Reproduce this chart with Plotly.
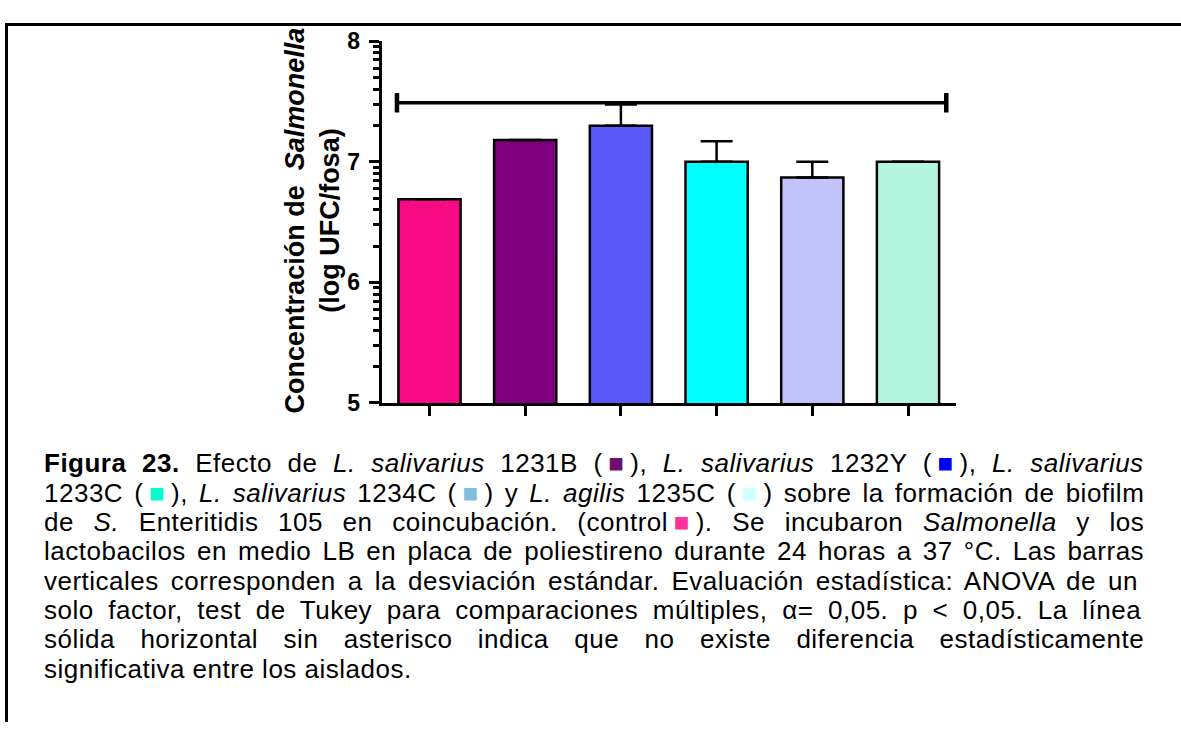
import math
import re
import plotly.graph_objects as go

W, H = 1181, 735

# ---- data -------------------------------------------------------------
categories = ["Control", "L. salivarius 1231B", "L. salivarius 1232Y",
              "L. salivarius 1233C", "L. salivarius 1234C", "L. agilis 1235C"]
means = [6.69, 7.18, 7.30, 7.00, 6.87, 7.00]          # log UFC/fosa
sd_upper = [None, None, 0.175, 0.17, 0.13, None]       # standard deviation
bar_colors = ["#F60B84", "#800080", "#5959F8", "#00FFFF", "#C3C3FC", "#B4F5DF"]
y_major = [5, 6, 7, 8]
no_difference_level = 7.49                             # Tukey: no significant difference

# colours of the small squares used in the caption
swatch_colors = ["#6E0E6E", "#0000FF", "#00FFCC", "#80C0DC", "#CCFFFF", "#FF3399"]

# ---- helpers ------------------------------------------------------------
def px_x(px):
    return px / W


def px_y(px):
    return 1 - px / H


def swatch(color, pad=True):
    sp = '\u2009' if pad else ''
    return f'{sp}<span style="color:{color}">■</span>{sp}'


# Arial / Liberation Sans advance widths (1/1000 em)
REG = {' ': 278, '\u2009': 200, '!': 278, '(': 333, ')': 333, ',': 278,
       '-': 333, '.': 278, '/': 278, ':': 278, '<': 584, '=': 584, '°': 400,
       'α': 578, '■': 604,
       'A': 667, 'B': 667, 'C': 722, 'D': 722, 'E': 667, 'F': 611, 'G': 778,
       'H': 722, 'I': 278, 'J': 500, 'K': 667, 'L': 556, 'M': 833, 'N': 722,
       'O': 778, 'P': 667, 'Q': 778, 'R': 722, 'S': 667, 'T': 611, 'U': 722,
       'V': 667, 'W': 944, 'X': 667, 'Y': 667, 'Z': 611,
       'a': 556, 'b': 556, 'c': 500, 'd': 556, 'e': 556, 'f': 278, 'g': 556,
       'h': 556, 'i': 222, 'j': 222, 'k': 500, 'l': 222, 'm': 833, 'n': 556,
       'o': 556, 'p': 556, 'q': 556, 'r': 333, 's': 500, 't': 278, 'u': 556,
       'v': 500, 'w': 722, 'x': 500, 'y': 500, 'z': 500,
       'á': 556, 'é': 556, 'í': 278, 'ó': 556, 'ú': 556}
for d in '0123456789':
    REG[d] = 556
BOLD = dict(REG)
BOLD.update({'F': 611, 'i': 278, 'g': 611, 'u': 611, 'r': 389, 'a': 556})


def text_width(markup, size, letter_sp):
    """Natural width in px of a line of annotation markup."""
    bold = False
    total = 0.0
    spaces = 0
    chars = 0
    for part in re.split(r'(<[^>]+>)', markup):
        if part.startswith('<'):
            if part == '<b>':
                bold = True
            elif part == '</b>':
                bold = False
            continue
        part = part.replace('&lt;', '<')
        table = BOLD if bold else REG
        for ch in part:
            total += table.get(ch, 556)
            chars += 1
            if ch == ' ':
                spaces += 1
    return total * size / 1000.0 + chars * letter_sp, spaces


# ---- caption ------------------------------------------------------------
caption_lines = [
    f'<b>Figura 23.</b> Efecto de <i>L. salivarius</i> 1231B ({swatch(swatch_colors[0])}), '
    f'<i>L. salivarius</i> 1232Y ({swatch(swatch_colors[1])}), <i>L. salivarius</i>',
    f'1233C ({swatch(swatch_colors[2])}), <i>L. salivarius</i> 1234C ({swatch(swatch_colors[3])}) '
    f'y <i>L. agilis</i> 1235C ({swatch(swatch_colors[4])}) sobre la formación de biofilm',
    f'de <i>S.</i> Enteritidis 105 en coincubación. (control{swatch(swatch_colors[5])}). '
    f'Se incubaron <i>Salmonella</i> y los',
    'lactobacilos en medio LB en placa de poliestireno durante 24 horas a 37 °C. Las barras',
    'verticales corresponden a la desviación estándar. Evaluación estadística: ANOVA de un',
    'solo factor, test de Tukey para comparaciones múltiples, α= 0,05. p &lt; 0,05. La línea',
    'sólida horizontal sin asterisco indica que no existe diferencia estadísticamente',
    'significativa entre los aislados.',
]

CAP_SIZE = 26
CAP_LS = 0.5
CAP_LEFT, CAP_RIGHT = 43, 1143
CAP_TOP, CAP_STEP = 467, 30.4

annotations = []
for i, line in enumerate(caption_lines):
    plain = re.sub(r'<span[^>]*>■</span>', '■', line)
    natural, n_sp = text_width(plain, CAP_SIZE, CAP_LS)
    if i < len(caption_lines) - 1:
        ws = (CAP_RIGHT - CAP_LEFT - natural) / max(n_sp, 1)
    else:
        ws = 0
    text = (f'<span style="letter-spacing:{CAP_LS}px;word-spacing:{ws:.2f}px">'
            f'{line}</span>')
    annotations.append(dict(
        text=text, x=px_x(CAP_LEFT), y=px_y(CAP_TOP + i * CAP_STEP),
        xref='paper', yref='paper', xanchor='left', yanchor='middle',
        align='left', showarrow=False, borderpad=0,
        font=dict(family='Liberation Sans, Arial', size=CAP_SIZE, color='black'),
    ))

# y-axis title (two lines, rotated)
annotations.append(dict(
    text='<b>Concentración de\u00a0 <i>Salmonella</i><br>(log UFC/fosa)</b>',
    x=px_x(312), y=px_y(215), xref='paper', yref='paper',
    xanchor='center', yanchor='middle', textangle=-90, showarrow=False,
    font=dict(family='Liberation Sans, Arial', size=27, color='black'),
))

# ---- figure -------------------------------------------------------------
fig = go.Figure()
fig.add_trace(go.Bar(
    x=categories, y=means, width=0.65,
    marker=dict(color=bar_colors, line=dict(color='black', width=2.5)),
    error_y=dict(type='data', symmetric=False, array=sd_upper,
                 arrayminus=[0 if v is not None else None for v in sd_upper],
                 color='black', thickness=2.5, width=16),
    showlegend=False,
))

# horizontal line spanning all groups (no significant difference)
x_start = -0.34
x_end = len(categories) - 1 + 0.40
cap = 0.08
shapes = [
    dict(type='line', xref='x', yref='y', x0=x_start, x1=x_end,
         y0=no_difference_level, y1=no_difference_level,
         line=dict(color='black', width=3.5)),
    dict(type='line', xref='x', yref='y', x0=x_start, x1=x_start,
         y0=no_difference_level - cap, y1=no_difference_level + cap,
         line=dict(color='black', width=4.5)),
    dict(type='line', xref='x', yref='y', x0=x_end, x1=x_end,
         y0=no_difference_level - cap, y1=no_difference_level + cap,
         line=dict(color='black', width=4.5)),
    # figure frame (top and left rules)
    dict(type='line', xref='paper', yref='paper', x0=px_x(6.5), x1=px_x(6.5),
         y0=0, y1=px_y(12), line=dict(color='black', width=3)),
    dict(type='line', xref='paper', yref='paper', x0=px_x(5), x1=1,
         y0=px_y(12), y1=px_y(12), line=dict(color='black', width=3)),
]

y_minor = [d + math.log10(k) for d in y_major[:-1] for k in range(2, 10)]

fig.update_layout(
    width=W, height=H,
    margin=dict(l=0, r=0, t=0, b=0),
    paper_bgcolor='white', plot_bgcolor='white',
    font=dict(family='Liberation Sans, Arial', color='black'),
    xaxis=dict(
        domain=[px_x(381.65), px_x(955.85)], range=[-0.5, 5.5],
        showticklabels=False, ticks='outside', ticklen=10, tickwidth=3,
        tickcolor='black', showline=True, linewidth=3, linecolor='black',
        showgrid=False, zeroline=False,
    ),
    yaxis=dict(
        domain=[px_y(404.2), px_y(29.3)], range=[5, 8],
        tickmode='array', tickvals=y_major,
        ticks='outside', ticklen=10, tickwidth=3, tickcolor='black',
        minor=dict(tickmode='array', tickvals=y_minor, ticks='outside',
                   ticklen=6, tickwidth=2.5, tickcolor='black', showgrid=False),
        showline=True, linewidth=3, linecolor='black',
        showgrid=False, zeroline=False, ticklabelstandoff=4,
        tickfont=dict(family='Liberation Sans, Arial', size=23,
                      color='black', weight='bold'),
    ),
    shapes=shapes,
    annotations=annotations,
)

fig.write_html("out.html")
